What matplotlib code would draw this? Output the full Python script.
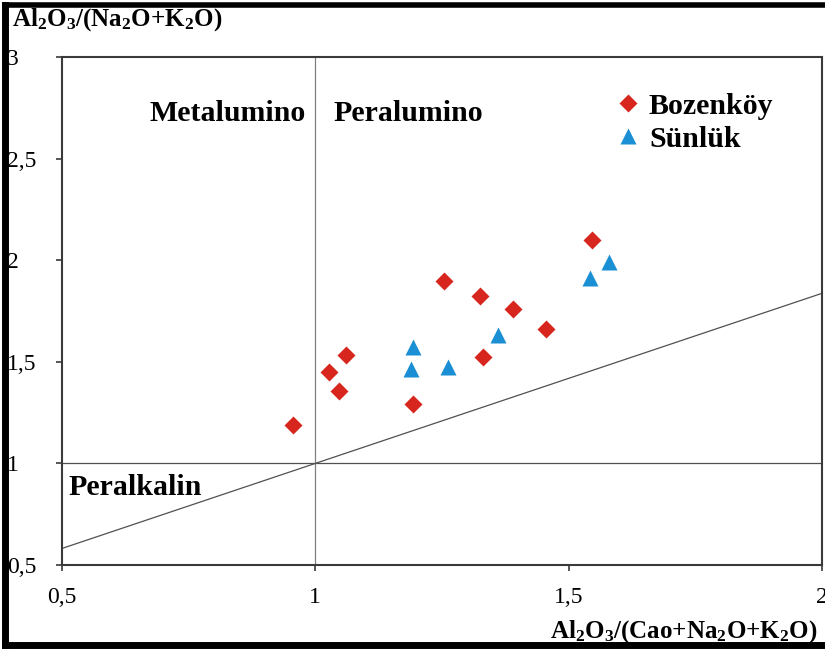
import matplotlib
matplotlib.use("Agg")
import matplotlib.pyplot as plt
from matplotlib.lines import Line2D
from matplotlib.ticker import FixedLocator, FuncFormatter

# ---------- data ----------
boz_x = [0.955, 1.026, 1.047, 1.061, 1.193, 1.254, 1.325, 1.331, 1.390, 1.455, 1.547]
boz_y = [1.187, 1.448, 1.355, 1.532, 1.291, 1.897, 1.823, 1.522, 1.759, 1.660, 2.099]

sun_x = [1.193, 1.189, 1.262, 1.360, 1.543, 1.579]
sun_y = [1.571, 1.463, 1.473, 1.631, 1.911, 1.990]

xticks = [0.5, 1.0, 1.5, 2.0]
yticks = [0.5, 1.0, 1.5, 2.0, 2.5, 3.0]

# boundary line A/NK vs A/CNK
line_x = [0.5, 2.0]
line_y = [0.5815, 1.837]

plt.rcParams['font.family'] = ['Liberation Serif', 'DejaVu Serif']
plt.rcParams['mathtext.fontset'] = 'custom'
plt.rcParams['mathtext.bf'] = 'Liberation Serif:bold'
plt.rcParams['mathtext.rm'] = 'Liberation Serif:bold'
plt.rcParams['mathtext.default'] = 'bf'

fig = plt.figure(figsize=(8.25, 6.49), dpi=100)
ax = fig.add_axes([62/825, 1 - 565/649, 760/825, 508/649])

ax.set_xlim(0.5, 2.0)
ax.set_ylim(0.5, 3.0)

# reference lines
ax.axvline(1.0, color='#808080', lw=0.9, zorder=1)
ax.axhline(1.0, color='#505050', lw=0.9, zorder=1)
ax.plot(line_x, line_y, color='#505050', lw=0.9, zorder=1)

ax.plot(boz_x, boz_y, 'D', color='#d7261e', ms=9, mec='none', label='Bozenköy', zorder=3)
ax.plot(sun_x, sun_y, '^', color='#1a8fd3', ms=12, mec='none', label='Sünlük', zorder=3)

# region names
ax.text(0.672, 2.724, 'Metalumino', fontsize=21.5, fontweight='bold', ha='left', va='center')
ax.text(1.035, 2.724, 'Peralumino', fontsize=21.5, fontweight='bold', ha='left', va='center')
ax.text(0.512, 0.882, 'Peralkalin', fontsize=21.5, fontweight='bold', ha='left', va='center')

# axes styling
for s in ax.spines.values():
    s.set_color('#3a3a3a')
    s.set_linewidth(1.5)

fmt = FuncFormatter(lambda v, p: ('%g' % v).replace('.', ','))
ax.xaxis.set_major_locator(FixedLocator(xticks))
ax.yaxis.set_major_locator(FixedLocator(yticks))
ax.xaxis.set_major_formatter(fmt)
ax.yaxis.set_major_formatter(fmt)
ax.tick_params(axis='both', direction='out', length=4.5, width=1.2, color='#3a3a3a',
               labelsize=17)
ax.tick_params(axis='x', pad=11)
ax.tick_params(axis='y', pad=35)
for lab in ax.get_yticklabels():
    lab.set_horizontalalignment('left')

ax.set_xlabel(r'Al$_2$O$_3$/(Cao+Na$_2$O+K$_2$O)', fontsize=18, fontweight='bold', loc='right')
ax.xaxis.set_label_coords(0.994, -0.105)
ax.set_ylabel(r'Al$_2$O$_3$/(Na$_2$O+K$_2$O)', fontsize=18, fontweight='bold',
              rotation=0, ha='left', va='center')
ax.yaxis.set_label_coords(-0.0656, 1.0728)

leg = ax.legend(loc='upper left', bbox_to_anchor=(0.729, 0.93), frameon=False,
                prop={'weight': 'bold', 'size': 21.5}, handlelength=0.8,
                handletextpad=0.3, labelspacing=0.2, borderpad=0, borderaxespad=0)

# outer frame of the figure
fig.add_artist(Line2D([5/825, 5/825], [0, 1 - 5/649], transform=fig.transFigure, color='black', lw=5))
fig.add_artist(Line2D([5/825, 1], [1 - 5/649, 1 - 5/649], transform=fig.transFigure, color='black', lw=4))
fig.add_artist(Line2D([5/825, 1], [1 - 645/649, 1 - 645/649], transform=fig.transFigure, color='black', lw=5))

fig.savefig('out.png', dpi=100)
